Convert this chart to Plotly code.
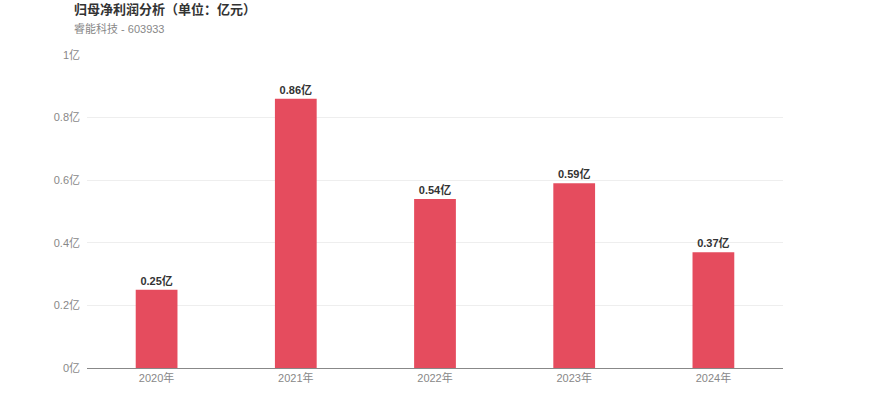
import plotly.graph_objects as go

years = ['2020年', '2021年', '2022年', '2023年', '2024年']
profit = [0.25, 0.86, 0.54, 0.59, 0.37]
labels = ['0.25亿', '0.86亿', '0.54亿', '0.59亿', '0.37亿']
tick_vals = [0, 0.2, 0.4, 0.6, 0.8, 1]
tick_text = ['0亿', '0.2亿', '0.4亿', '0.6亿', '0.8亿', '1亿']

font_family = '"Liberation Sans", Arial, "Noto Sans CJK SC", sans-serif'

L, T, R, B = 87, 55, 87, 49
plot_w = 870 - L - R
plot_h = 417 - T - B

fig = go.Figure()
fig.add_trace(go.Bar(
    x=years, y=profit, text=labels, textposition='outside',
    textfont=dict(size=11, color='#333333', family=font_family, weight='bold'),
    marker=dict(color='#E54C5E', line=dict(width=0)),
    width=0.3, cliponaxis=False,
))

fig.update_layout(
    width=870, height=417,
    margin=dict(l=L, r=R, t=T, b=B),
    paper_bgcolor='white', plot_bgcolor='white',
    font=dict(family=font_family, size=11, color='#888888'),
    showlegend=False,
)

fig.add_annotation(text='<b>归母净利润分析（单位：亿元）</b>', xref='paper', yref='paper',
                   x=(72 - L) / plot_w, y=1 + (T - 9) / plot_h, xanchor='left', yanchor='middle',
                   showarrow=False, font=dict(size=13, color='#333333'))
fig.add_annotation(text='睿能科技 - 603933', xref='paper', yref='paper',
                   x=(72 - L) / plot_w, y=1 + (T - 28) / plot_h, xanchor='left', yanchor='middle',
                   showarrow=False, font=dict(size=11, color='#888888'))

fig.update_xaxes(showgrid=False, showline=True, linecolor='#888888', linewidth=1,
                 ticks='', tickfont=dict(size=11, color='#888888'))
fig.update_yaxes(range=[0, 1], tickvals=tick_vals, ticktext=tick_text,
                 showgrid=True, gridcolor='#EEEEEE', gridwidth=1, zeroline=False,
                 showline=False, ticks='', ticklabelstandoff=6,
                 tickfont=dict(size=11, color='#888888'))

fig.write_html("out.html", config={'displayModeBar': False},
               post_script="document.body.style.margin='0';")
